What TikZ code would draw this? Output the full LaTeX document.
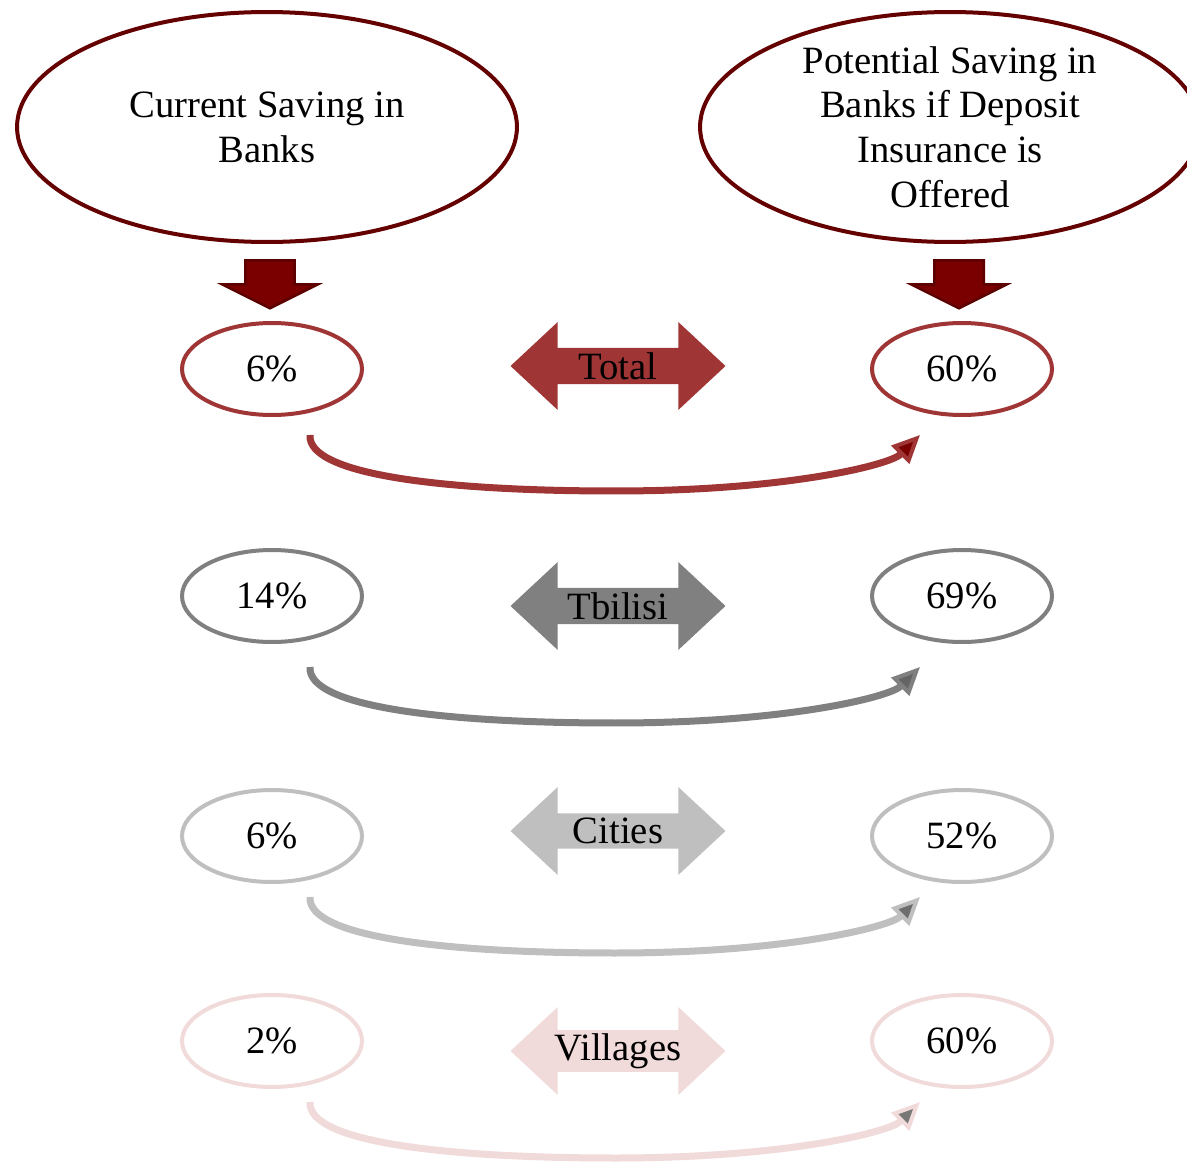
\documentclass[tikz,border=0pt]{standalone}
\usepackage{fontspec}
\setmainfont{Liberation Serif}
\usetikzlibrary{shapes.geometric,shapes.arrows,arrows.meta,calc}

\definecolor{headred}{RGB}{100,0,0}
\definecolor{arrowred}{RGB}{122,0,0}
\definecolor{arrowdark}{RGB}{92,0,0}
\definecolor{totalc}{RGB}{160,53,53}
\definecolor{totald}{RGB}{122,0,0}
\definecolor{tbc}{RGB}{128,128,128}
\definecolor{tbd}{RGB}{100,100,100}
\definecolor{cityc}{RGB}{191,191,191}
\definecolor{cityd}{RGB}{110,110,110}
\definecolor{villc}{RGB}{241,218,218}
\definecolor{villd}{RGB}{120,120,120}

\tikzset{
  bigoval/.style={ellipse,draw=headred,line width=0.08cm,minimum width=10cm,
    minimum height=4.6cm,inner sep=0pt,align=center,
    font=\fontsize{22}{25.5}\selectfont},
  oval/.style={ellipse,line width=0.08cm,minimum width=3.6cm,minimum height=1.84cm,
    inner sep=0pt,font=\fontsize{22}{26}\selectfont},
  downarrow/.style={single arrow,fill=arrowred,draw=arrowdark,line width=0.05cm,
    rotate=-90,anchor=tail,minimum height=0.96cm,minimum width=1.9cm,
    single arrow head extend=0.46cm,single arrow tip angle=127,
    inner xsep=0pt,inner ysep=0.47cm},
  bothways/.style={double arrow,minimum height=4.3cm,minimum width=1.76cm,
    double arrow head extend=0.4cm,double arrow tip angle=86,inner sep=0pt,
    font=\fontsize{22}{26}\selectfont},
  band/.style={line width=0.14cm,draw=#1}
}

\begin{document}
\begin{tikzpicture}[x=0.02cm,y=-0.02cm]
\useasboundingbox (0,0) rectangle (1187,1163);

% headings
\node[bigoval] (cur) at (267,127) {Current Saving in\\Banks};
\node[bigoval] (pot) at (950,127) {Potential Saving in\\Banks if Deposit\\Insurance is\\Offered};
\node[downarrow] (dcur) at (270,259) {};
\node[downarrow] (dpot) at (959,259) {};

% one row for each region
\foreach \y/\ya/\o/\c/\d/\lab/\lv/\rv/\i in {
    369/366/18/totalc/totald/Total/6\%/60\%/1,
    596/606/23/tbc/tbd/Tbilisi/14\%/69\%/2,
    836/831/13/cityc/cityd/Cities/6\%/52\%/3,
    1041/1051/13/villc/villd/Villages/2\%/60\%/4}{
  \node[oval,draw=\c] (l\i) at (272,\y) {\lv};
  \node[oval,draw=\c] (r\i) at (962,\y) {\rv};
  \node[bothways,fill=\c] (m\i) at (618,\ya) {\lab};
  \coordinate (s\i) at ([shift={(38,\o)}]l\i.south);
  \coordinate (e\i) at ([shift={(-42,\o)}]r\i.south);
  \coordinate (b\i) at ($(s\i)!0.5!(e\i)+(0,56)$);
  \draw[band=\c,-{Triangle[length=0.56cm,width=0.5cm,line width=0.08cm,fill=\d]}]
    (s\i) .. controls +(-3,40) and +(-170,0) .. (b\i)
          .. controls +(170,0) and +(-30,30) .. (e\i);
}
\end{tikzpicture}
\end{document}
